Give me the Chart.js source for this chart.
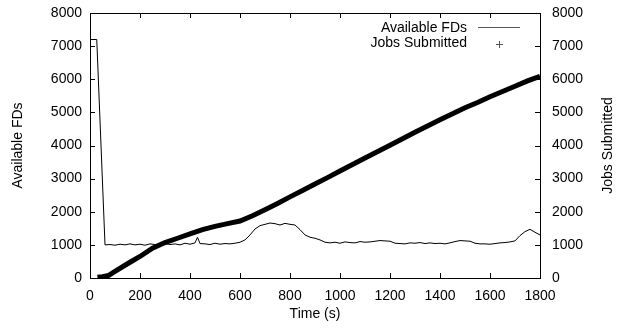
<!DOCTYPE html>
<html>
<head>
<meta charset="utf-8">
<script src="https://cdn.jsdelivr.net/npm/chart.js@4/dist/chart.umd.min.js"></script>
<style>
  html, body { margin: 0; padding: 0; background: #fff; }
  #wrap { width: 620px; height: 329px; }
</style>
</head>
<body>
<div id="wrap"><canvas id="myChart" width="620" height="329"></canvas></div>
<script>
// values
var fdTimes = [0, 27, 60, 80, 100, 120, 140, 160, 180, 200, 220, 240, 260, 280, 300, 320, 340, 360, 380, 400,
    420, 430, 440, 460, 480, 500, 520, 540, 560, 580, 600, 620, 640, 660, 680, 700, 720, 740, 760, 780,
    800, 820, 840, 860, 880, 900, 920, 940, 960, 980, 1000, 1020, 1040, 1060, 1080, 1100, 1120, 1140, 1160, 1180,
    1200, 1220, 1240, 1260, 1280, 1300, 1320, 1340, 1360, 1380, 1400, 1420, 1440, 1460, 1480, 1500, 1520, 1540, 1560, 1580,
    1600, 1620, 1640, 1660, 1680, 1700, 1720, 1740, 1760, 1780, 1800];
var fdValues = [7200, 7200, 1000, 1010, 990, 1020, 1000, 1030, 1000, 1020, 990, 1030, 1010, 1000, 1040, 1010, 1030, 1000, 1050, 1020,
    1060, 1230, 1040, 1030, 1010, 1050, 1020, 1040, 1030, 1050, 1080, 1150, 1300, 1480, 1580, 1620, 1660, 1640, 1600, 1650,
    1620, 1600, 1460, 1300, 1230, 1200, 1150, 1080, 1060, 1080, 1050, 1090, 1070, 1060, 1100, 1080, 1090, 1110, 1130, 1120,
    1110, 1050, 1040, 1030, 1060, 1050, 1070, 1040, 1060, 1040, 1050, 1030, 1060, 1100, 1130, 1120, 1110, 1050, 1030, 1030,
    1020, 1040, 1060, 1070, 1090, 1120, 1280, 1400, 1470, 1380, 1300];

var jobTimes = [30, 50, 75, 100, 150, 200, 250, 300, 350, 400, 450, 500, 550, 600, 650, 700, 750, 800, 850, 900,
    950, 1000, 1100, 1200, 1300, 1400, 1500, 1550, 1600, 1700, 1750, 1800];
var jobValues = [20, 40, 80, 200, 430, 650, 900, 1070, 1200, 1330, 1460, 1560, 1640, 1720, 1880, 2060, 2250, 2450, 2640, 2840,
    3030, 3230, 3620, 4010, 4400, 4780, 5140, 5300, 5470, 5790, 5950, 6090];

var xTicks = [0, 200, 400, 600, 800, 1000, 1200, 1400, 1600, 1800];
var yTicks = [0, 1000, 2000, 3000, 4000, 5000, 6000, 7000, 8000];

var seriesNames = ['Available FDs', 'Jobs Submitted'];

function toPoints(xs, ys) {
    var pts = [];
    for (var i = 0; i < xs.length; i++) {
        pts.push({ x: xs[i], y: ys[i] });
    }
    return pts;
}

function plain(v) { return String(v); }

var font = { family: 'Liberation Sans, Arial, Helvetica, sans-serif', size: 14 };

// gnuplot style frame, inward ticks, legend and right axis title
var framePlugin = {
    id: 'frame',
    afterDraw: function(chart) {
        var ctx = chart.ctx;
        var a = chart.chartArea;
        var sx = chart.scales.x, sy = chart.scales.y, sy2 = chart.scales.y2;
        var len = 5;
        ctx.save();
        ctx.strokeStyle = '#000';
        ctx.lineWidth = 1;
        ctx.strokeRect(Math.round(a.left) + 0.5, Math.round(a.top) + 0.5,
            Math.round(a.right - a.left), Math.round(a.bottom - a.top));
        ctx.beginPath();
        sx.ticks.forEach(function(t) {
            var px = Math.round(sx.getPixelForValue(t.value)) + 0.5;
            ctx.moveTo(px, a.bottom); ctx.lineTo(px, a.bottom - len);
            ctx.moveTo(px, a.top); ctx.lineTo(px, a.top + len);
        });
        sy.ticks.forEach(function(t) {
            var py = Math.round(sy.getPixelForValue(t.value)) + 0.5;
            ctx.moveTo(a.left, py); ctx.lineTo(a.left + len, py);
        });
        sy2.ticks.forEach(function(t) {
            var py = Math.round(sy2.getPixelForValue(t.value)) + 0.5;
            ctx.moveTo(a.right, py); ctx.lineTo(a.right - len, py);
        });
        ctx.stroke();

        ctx.font = font.size + 'px ' + font.family;
        ctx.fillStyle = '#000';
        ctx.textBaseline = 'middle';

        // right axis title, reading bottom to top like the left one
        ctx.save();
        ctx.translate(608, (a.top + a.bottom) / 2);
        ctx.rotate(-Math.PI / 2);
        ctx.textAlign = 'center';
        ctx.fillText(seriesNames[1], 0, 0);
        ctx.restore();

        // legend
        ctx.textAlign = 'right';
        ctx.fillText(seriesNames[0], 467, 28);
        ctx.fillText(seriesNames[1], 467, 43);
        ctx.strokeStyle = '#555';
        ctx.beginPath();
        ctx.moveTo(478, 27.5); ctx.lineTo(520, 27.5);
        ctx.moveTo(496, 44.5); ctx.lineTo(503, 44.5);
        ctx.moveTo(499.5, 41); ctx.lineTo(499.5, 48);
        ctx.stroke();
        ctx.restore();
    }
};

function noVPad(s) { s.paddingTop = 0; s.paddingBottom = 0; }

var ctx = document.getElementById('myChart').getContext('2d');
var myChart = new Chart(ctx, {
    type: 'line',
    data: {
        datasets: [{
            label: seriesNames[0],
            data: toPoints(fdTimes, fdValues),
            borderColor: '#000',
            borderWidth: 1,
            pointRadius: 0,
            tension: 0,
            yAxisID: 'y'
        }, {
            label: seriesNames[1],
            data: toPoints(jobTimes, jobValues),
            borderColor: '#000',
            borderWidth: 5,
            pointRadius: 0,
            tension: 0,
            yAxisID: 'y2'
        }]
    },
    options: {
        responsive: false,
        animation: false,
        layout: { padding: { top: 13, left: 0, right: 0, bottom: 0 } },
        plugins: {
            legend: { display: false },
            tooltip: { enabled: false }
        },
        scales: {
            x: {
                type: 'linear',
                position: 'bottom',
                min: 0,
                max: 1800,
                afterBuildTicks: function(s) { s.ticks = xTicks.map(function(v) { return { value: v }; }); },
                ticks: { font: font, color: '#000', padding: 10, maxRotation: 0, callback: plain },
                grid: { drawOnChartArea: false, drawTicks: false },
                border: { display: false },
                title: { display: true, text: 'Time (s)', font: font, color: '#000', padding: { top: 4, bottom: 6 } },
                afterFit: function(s) { s.height = 51; s.paddingLeft = 0; s.paddingRight = 0; }
            },
            y: {
                type: 'linear',
                position: 'left',
                min: 0,
                max: 8000,
                afterBuildTicks: function(s) { s.ticks = yTicks.map(function(v) { return { value: v }; }); },
                ticks: { font: font, color: '#000', padding: 8, callback: plain },
                grid: { drawOnChartArea: false, drawTicks: false },
                border: { display: false },
                title: { display: true, text: 'Available FDs', font: font, color: '#000', padding: { top: 10, bottom: 0 } },
                afterFit: function(s) { s.width = 90; noVPad(s); }
            },
            y2: {
                type: 'linear',
                position: 'right',
                min: 0,
                max: 8000,
                afterBuildTicks: function(s) { s.ticks = yTicks.map(function(v) { return { value: v }; }); },
                ticks: { font: font, color: '#000', padding: 12, callback: plain },
                grid: { drawOnChartArea: false, drawTicks: false },
                border: { display: false },
                afterFit: function(s) { s.width = 80; noVPad(s); }
            }
        }
    },
    plugins: [framePlugin]
});
</script>
</body>
</html>
